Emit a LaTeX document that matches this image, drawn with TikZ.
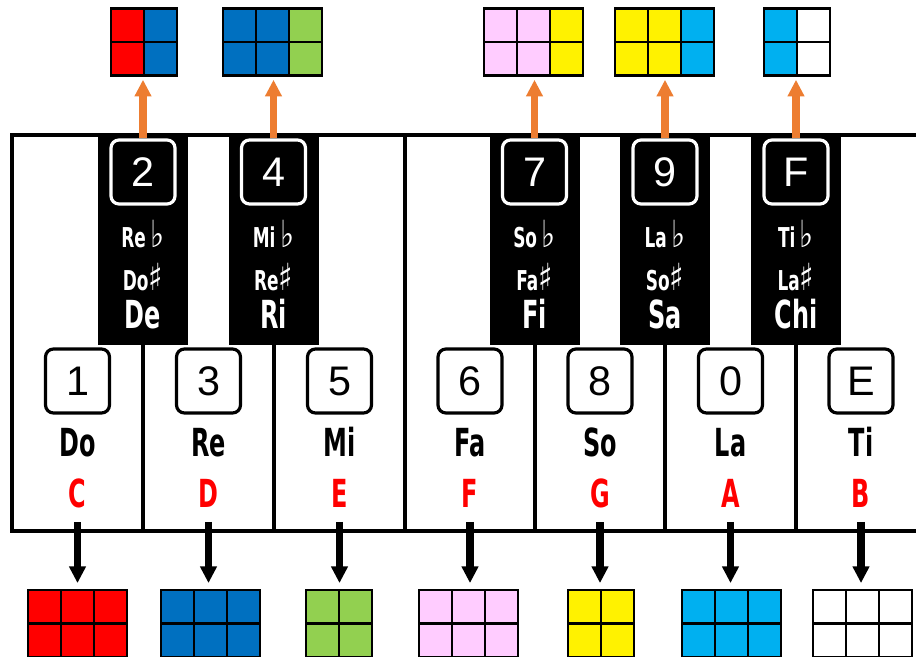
\documentclass[tikz,border=0pt]{standalone}
\usepackage{fontspec}
\setmainfont{Liberation Sans}
\newfontfamily\solfa[FakeStretch=0.62]{DejaVu Sans}
\newfontfamily\musicsym[FakeStretch=0.8]{DejaVu Sans}
\usetikzlibrary{arrows.meta,positioning,fit}

\definecolor{keyblue}{HTML}{0070C0}
\definecolor{keygreen}{HTML}{92D050}
\definecolor{keypink}{HTML}{FFCCFF}
\definecolor{keycyan}{HTML}{00B0F0}
\definecolor{keyorange}{HTML}{ED7D31}

\newcommand{\flt}{\,{\musicsym\fontsize{28}{18}\selectfont ♭}}
\newcommand{\shp}{{\musicsym\fontsize{28}{18}\selectfont ♯}}

% colour grid: name, left x, top y, colours of the columns
\newcommand{\colorgrid}[4]{%
	\coordinate (#1-nw) at (#2,#3);
	\foreach \c [count=\i from 0] in {#4} {
		\draw[cell, fill=\c] (#2+\i*33,#3) rectangle ++(33,33.5);
		\draw[cell, fill=\c] (#2+\i*33,#3+33.5) rectangle ++(33,33.5);
		\coordinate (#1-se) at (#2+\i*33+33,#3+67);
	}
	\node[fit=(#1-nw)(#1-se), inner sep=0pt] (#1) {};
}

\begin{document}
\begin{tikzpicture}[
		x=0.75pt, y=-0.75pt,
		keyline/.style={line width=2.4pt, line join=miter},
		blackkey/.style={fill=black, minimum width=67.5pt, minimum height=157.5pt, anchor=north, inner sep=0pt},
		numbox/.style={draw, line width=2.4pt, rounded corners=6pt, minimum size=48pt, inner sep=0pt, fill=white, font=\fontsize{31}{31}\selectfont},
		sharpbox/.style={numbox, draw=white, fill=black, text=white},
		solname/.style={font=\solfa\bfseries\fontsize{29}{30}\selectfont, inner sep=0pt, anchor=base},
		altname/.style={font=\solfa\bfseries\fontsize{20.5}{21}\selectfont, text=white, inner sep=0pt, anchor=base},
		letter/.style={solname, text=red},
		cell/.style={draw=black, line width=2.2pt},
		uparrow/.style={draw=keyorange, line width=5.5pt, -{Triangle[width=12pt,length=12.5pt]}, shorten >=3pt},
		downarrow/.style={draw=black, line width=5.5pt, -{Triangle[width=12pt,length=12.5pt]}, shorten <=11pt, shorten >=5pt}
	]
	\useasboundingbox (0,0) rectangle (916,656);

	% keyboard
	\draw[keyline] (916,135) -- (12,135) -- (12,531) -- (916,531);
	\foreach \x in {143,274,405,535,665,796}
		\draw[keyline] (\x,135) -- (\x,531);

	% black keys
	\foreach \x/\num/\fl/\sh/\sol in {143/2/Re/Do/De, 273.5/4/Mi/Re/Ri, 534.5/7/So/Fa/Fi, 665/9/La/So/Sa, 796/F/Ti/La/Chi} {
		\node[blackkey] (k\num) at (\x,135) {};
		\node[sharpbox] (b\num) at (\x,172) {\num};
		\node[altname] (fl\num) at (\x,247) {\fl\flt};
		\node[altname] (sh\num) at (\x,290) {\sh\shp};
		\node[solname, text=white] (s\num) at (\x,328) {\sol};
	}

	% white keys
	\foreach \x/\num/\sol/\abc in {77.5/1/Do/C, 208.5/3/Re/D, 339.5/5/Mi/E, 470/6/Fa/F, 600/8/So/G, 730.5/0/La/A, 861/E/Ti/B} {
		\node[numbox] (b\num) at (\x,381) {\num};
		\node[solname] (s\num) at (\x,456) {\sol};
		\node[letter] (l\abc) at (\x,507) {\abc};
	}

	% grids above
	\colorgrid{g2}{111}{8.5}{red,keyblue}
	\colorgrid{g4}{223}{8.5}{keyblue,keyblue,keygreen}
	\colorgrid{g7}{484}{8.5}{keypink,keypink,yellow}
	\colorgrid{g9}{615}{8.5}{yellow,yellow,keycyan}
	\colorgrid{gF}{764}{8.5}{keycyan,white}

	% grids below
	\colorgrid{gC}{28}{590}{red,red,red}
	\colorgrid{gD}{161}{590}{keyblue,keyblue,keyblue}
	\colorgrid{gE}{306}{590}{keygreen,keygreen}
	\colorgrid{gF2}{419}{590}{keypink,keypink,keypink}
	\colorgrid{gG}{568}{590}{yellow,yellow}
	\colorgrid{gA}{682}{590}{keycyan,keycyan,keycyan}
	\colorgrid{gB}{813}{590}{white,white,white}

	\foreach \n in {2,4,7,9,F}
		\draw[uparrow] (b\n.north) -- (b\n.north |- g\n.south);
	\foreach \a/\g in {C/gC,D/gD,E/gE,F/gF2,G/gG,A/gA,B/gB}
		\draw[downarrow] (l\a.south) -- (l\a.south |- \g.north);
\end{tikzpicture}
\end{document}
